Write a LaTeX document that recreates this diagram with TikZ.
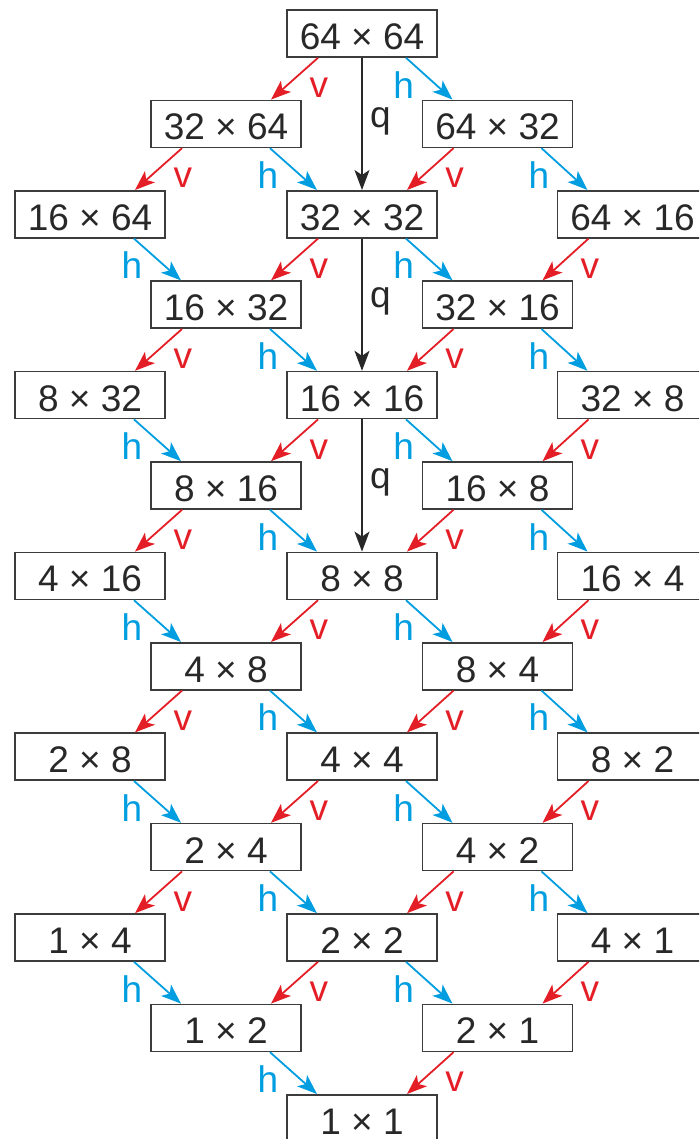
\documentclass[tikz,border=0pt]{standalone}
\usepackage{fontspec}
\setmainfont{Liberation Sans}
\usepackage{xcolor}
\usepackage{tikz}
\usetikzlibrary{arrows.meta}

\definecolor{vred}{RGB}{228,30,38}
\definecolor{hblue}{RGB}{0,158,224}
\definecolor{qgray}{RGB}{40,40,40}
\definecolor{boxgray}{RGB}{60,60,60}

\begin{document}
\begin{tikzpicture}[
  x=1pt, y=-1pt,
  every node/.style={font=\fontsize{37}{40}\selectfont, text=qgray},
  box/.style={
    rectangle, draw=boxgray, line width=1.6pt, fill=white,
    minimum width=150pt, minimum height=47pt, inner sep=0pt,
    text height=32pt, text depth=0pt
  },
  tip/.style={-{Stealth[length=20pt, width=15pt, inset=5pt]}, line width=1.8pt},
  varrow/.style={tip, draw=vred, fill=vred},
  harrow/.style={tip, draw=hblue, fill=hblue},
  qarrow/.style={tip, draw=qgray, fill=qgray},
  vlab/.style={midway, right, xshift=11pt, yshift=-9pt, text=vred},
  hlab/.style={midway, left, xshift=-11pt, yshift=-6pt, text=hblue},
  qlab/.style={midway, right, xshift=4pt, yshift=3pt, text=qgray}
]
\useasboundingbox (0,0) rectangle (699,1139);
\clip (0,0) rectangle (699,1139);

% grid of sizes
\node[box] (n64x64) at (362,33.5) {64 × 64};

\node[box] (n32x64) at (226,123.9) {32 × 64};
\node[box] (n64x32) at (497.5,123.9) {64 × 32};

\node[box] (n16x64) at (90,214.3) {16 × 64};
\node[box] (n32x32) at (362,214.3) {32 × 32};
\node[box] (n64x16) at (632.5,214.3) {64 × 16};

\node[box] (n16x32) at (226,304.7) {16 × 32};
\node[box] (n32x16) at (497.5,304.7) {32 × 16};

\node[box] (n8x32) at (90,395.1) {8 × 32};
\node[box] (n16x16) at (362,395.1) {16 × 16};
\node[box] (n32x8) at (632.5,395.1) {32 × 8};

\node[box] (n8x16) at (226,485.5) {8 × 16};
\node[box] (n16x8) at (497.5,485.5) {16 × 8};

\node[box] (n4x16) at (90,575.9) {4 × 16};
\node[box] (n8x8) at (362,575.9) {8 × 8};
\node[box] (n16x4) at (632.5,575.9) {16 × 4};

\node[box] (n4x8) at (226,666.3) {4 × 8};
\node[box] (n8x4) at (497.5,666.3) {8 × 4};

\node[box] (n2x8) at (90,756.7) {2 × 8};
\node[box] (n4x4) at (362,756.7) {4 × 4};
\node[box] (n8x2) at (632.5,756.7) {8 × 2};

\node[box] (n2x4) at (226,847.1) {2 × 4};
\node[box] (n4x2) at (497.5,847.1) {4 × 2};

\node[box] (n1x4) at (90,937.5) {1 × 4};
\node[box] (n2x2) at (362,937.5) {2 × 2};
\node[box] (n4x1) at (632.5,937.5) {4 × 1};

\node[box] (n1x2) at (226,1027.9) {1 × 2};
\node[box] (n2x1) at (497.5,1027.9) {2 × 1};

\node[box] (n1x1) at (362,1118.3) {1 × 1};

% q steps
\draw[qarrow] (n64x64) -- node[qlab]{q} (n32x32);
\draw[qarrow] (n32x32) -- node[qlab]{q} (n16x16);
\draw[qarrow] (n16x16) -- node[qlab]{q} (n8x8);

% v steps
\draw[varrow] ([xshift=-44pt]n64x64.south) -- node[vlab]{v} ([xshift=45pt]n32x64.north);
\draw[varrow] ([xshift=-44pt]n32x64.south) -- node[vlab]{v} ([xshift=45pt]n16x64.north);
\draw[varrow] ([xshift=-44pt]n64x32.south) -- node[vlab]{v} ([xshift=45pt]n32x32.north);
\draw[varrow] ([xshift=-44pt]n32x32.south) -- node[vlab]{v} ([xshift=45pt]n16x32.north);
\draw[varrow] ([xshift=-44pt]n64x16.south) -- node[vlab]{v} ([xshift=45pt]n32x16.north);
\draw[varrow] ([xshift=-44pt]n16x32.south) -- node[vlab]{v} ([xshift=45pt]n8x32.north);
\draw[varrow] ([xshift=-44pt]n32x16.south) -- node[vlab]{v} ([xshift=45pt]n16x16.north);
\draw[varrow] ([xshift=-44pt]n16x16.south) -- node[vlab]{v} ([xshift=45pt]n8x16.north);
\draw[varrow] ([xshift=-44pt]n32x8.south) -- node[vlab]{v} ([xshift=45pt]n16x8.north);
\draw[varrow] ([xshift=-44pt]n8x16.south) -- node[vlab]{v} ([xshift=45pt]n4x16.north);
\draw[varrow] ([xshift=-44pt]n16x8.south) -- node[vlab]{v} ([xshift=45pt]n8x8.north);
\draw[varrow] ([xshift=-44pt]n8x8.south) -- node[vlab]{v} ([xshift=45pt]n4x8.north);
\draw[varrow] ([xshift=-44pt]n16x4.south) -- node[vlab]{v} ([xshift=45pt]n8x4.north);
\draw[varrow] ([xshift=-44pt]n4x8.south) -- node[vlab]{v} ([xshift=45pt]n2x8.north);
\draw[varrow] ([xshift=-44pt]n8x4.south) -- node[vlab]{v} ([xshift=45pt]n4x4.north);
\draw[varrow] ([xshift=-44pt]n4x4.south) -- node[vlab]{v} ([xshift=45pt]n2x4.north);
\draw[varrow] ([xshift=-44pt]n8x2.south) -- node[vlab]{v} ([xshift=45pt]n4x2.north);
\draw[varrow] ([xshift=-44pt]n2x4.south) -- node[vlab]{v} ([xshift=45pt]n1x4.north);
\draw[varrow] ([xshift=-44pt]n4x2.south) -- node[vlab]{v} ([xshift=45pt]n2x2.north);
\draw[varrow] ([xshift=-44pt]n2x2.south) -- node[vlab]{v} ([xshift=45pt]n1x2.north);
\draw[varrow] ([xshift=-44pt]n4x1.south) -- node[vlab]{v} ([xshift=45pt]n2x1.north);
\draw[varrow] ([xshift=-44pt]n2x1.south) -- node[vlab]{v} ([xshift=45pt]n1x1.north);

% h steps
\draw[harrow] ([xshift=44pt]n64x64.south) -- node[hlab]{h} ([xshift=-45pt]n64x32.north);
\draw[harrow] ([xshift=44pt]n32x64.south) -- node[hlab]{h} ([xshift=-45pt]n32x32.north);
\draw[harrow] ([xshift=44pt]n64x32.south) -- node[hlab]{h} ([xshift=-45pt]n64x16.north);
\draw[harrow] ([xshift=44pt]n16x64.south) -- node[hlab]{h} ([xshift=-45pt]n16x32.north);
\draw[harrow] ([xshift=44pt]n32x32.south) -- node[hlab]{h} ([xshift=-45pt]n32x16.north);
\draw[harrow] ([xshift=44pt]n16x32.south) -- node[hlab]{h} ([xshift=-45pt]n16x16.north);
\draw[harrow] ([xshift=44pt]n32x16.south) -- node[hlab]{h} ([xshift=-45pt]n32x8.north);
\draw[harrow] ([xshift=44pt]n8x32.south) -- node[hlab]{h} ([xshift=-45pt]n8x16.north);
\draw[harrow] ([xshift=44pt]n16x16.south) -- node[hlab]{h} ([xshift=-45pt]n16x8.north);
\draw[harrow] ([xshift=44pt]n8x16.south) -- node[hlab]{h} ([xshift=-45pt]n8x8.north);
\draw[harrow] ([xshift=44pt]n16x8.south) -- node[hlab]{h} ([xshift=-45pt]n16x4.north);
\draw[harrow] ([xshift=44pt]n4x16.south) -- node[hlab]{h} ([xshift=-45pt]n4x8.north);
\draw[harrow] ([xshift=44pt]n8x8.south) -- node[hlab]{h} ([xshift=-45pt]n8x4.north);
\draw[harrow] ([xshift=44pt]n4x8.south) -- node[hlab]{h} ([xshift=-45pt]n4x4.north);
\draw[harrow] ([xshift=44pt]n8x4.south) -- node[hlab]{h} ([xshift=-45pt]n8x2.north);
\draw[harrow] ([xshift=44pt]n2x8.south) -- node[hlab]{h} ([xshift=-45pt]n2x4.north);
\draw[harrow] ([xshift=44pt]n4x4.south) -- node[hlab]{h} ([xshift=-45pt]n4x2.north);
\draw[harrow] ([xshift=44pt]n2x4.south) -- node[hlab]{h} ([xshift=-45pt]n2x2.north);
\draw[harrow] ([xshift=44pt]n4x2.south) -- node[hlab]{h} ([xshift=-45pt]n4x1.north);
\draw[harrow] ([xshift=44pt]n1x4.south) -- node[hlab]{h} ([xshift=-45pt]n1x2.north);
\draw[harrow] ([xshift=44pt]n2x2.south) -- node[hlab]{h} ([xshift=-45pt]n2x1.north);
\draw[harrow] ([xshift=44pt]n1x2.south) -- node[hlab]{h} ([xshift=-45pt]n1x1.north);
\end{tikzpicture}
\end{document}
